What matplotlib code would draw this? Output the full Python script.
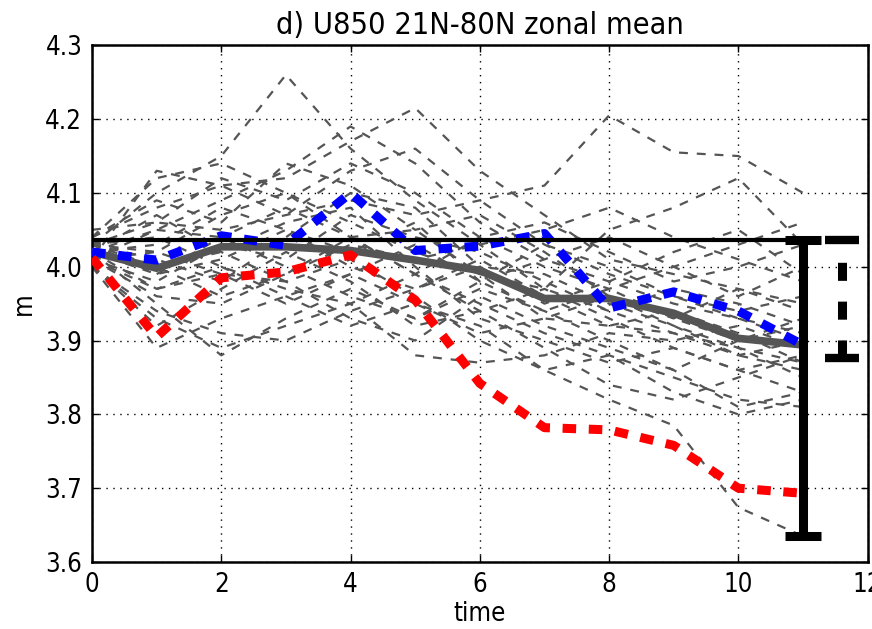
import matplotlib
matplotlib.use("Agg")
import matplotlib.pyplot as plt
import numpy as np

# lead time (x) for every series
time = np.arange(12)

# ensemble members (grey dashed)
members = [
    [4.03, 4.10, 4.15, 4.26, 4.16, 4.09, 4.03, 3.97, 3.94, 3.91, 3.89, 3.87],
    [4.02, 4.05, 4.09, 4.13, 4.19, 4.14, 4.06, 4.01, 3.98, 3.95, 3.93, 3.90],
    [4.01, 4.13, 4.11, 4.12, 4.17, 4.215, 4.13, 4.07, 4.01, 3.99, 3.97, 3.95],
    [4.03, 4.06, 4.05, 4.07, 4.09, 4.07, 4.09, 4.11, 4.205, 4.155, 4.15, 4.10],
    [4.04, 4.12, 4.14, 4.10, 4.04, 4.05, 3.99, 3.97, 4.05, 4.08, 4.12, 4.03],
    [4.02, 4.00, 3.96, 3.99, 4.03, 4.01, 4.03, 4.05, 4.08, 4.04, 4.01, 3.98],
    [4.00, 3.89, 3.93, 3.96, 3.99, 3.95, 3.92, 3.86, 3.88, 3.83, 3.80, 3.82],
    [4.01, 3.97, 3.99, 3.98, 4.01, 3.96, 3.90, 3.86, 3.82, 3.785, 3.674, 3.635],
    [4.02, 3.95, 3.88, 3.93, 3.97, 3.93, 3.97, 3.94, 3.90, 3.86, 3.81, 3.83],
    [4.03, 4.02, 4.07, 4.10, 4.06, 4.02, 3.99, 3.93, 3.92, 3.91, 3.88, 3.90],
    [4.00, 3.93, 3.89, 3.92, 3.95, 3.88, 3.87, 3.88, 3.91, 3.90, 3.92, 3.89],
    [4.04, 4.08, 4.11, 4.07, 4.13, 4.16, 4.09, 4.03, 3.99, 3.96, 3.94, 3.96],
    [4.02, 3.99, 4.01, 4.05, 4.00, 3.97, 4.00, 3.99, 3.95, 3.92, 3.88, 3.86],
    [4.01, 3.98, 4.03, 4.01, 4.07, 4.04, 4.02, 3.98, 3.94, 3.97, 3.95, 3.92],
    [4.03, 4.04, 4.00, 3.97, 3.95, 3.99, 4.04, 4.06, 4.02, 3.98, 4.00, 4.03],
    [4.00, 3.92, 3.97, 4.02, 3.98, 3.92, 3.94, 3.97, 3.93, 3.89, 3.86, 3.83],
    [4.02, 4.07, 4.02, 3.98, 3.93, 3.90, 3.96, 3.92, 3.89, 3.86, 3.90, 3.93],
    [4.03, 4.01, 3.98, 4.04, 4.10, 4.08, 4.00, 3.95, 3.98, 4.02, 4.05, 3.99],
    [4.01, 3.96, 3.95, 3.99, 4.04, 3.99, 3.94, 3.89, 3.84, 3.82, 3.85, 3.88],
    [4.04, 4.09, 4.06, 4.14, 4.11, 4.05, 4.07, 4.02, 3.96, 3.93, 3.97, 3.94],
    [4.02, 4.03, 4.08, 4.05, 4.02, 4.06, 3.98, 4.01, 4.04, 4.00, 3.96, 4.00],
    [4.00, 3.94, 3.91, 3.90, 3.94, 3.97, 4.01, 3.96, 3.92, 3.94, 3.91, 3.87],
    [4.03, 3.99, 4.04, 4.08, 4.04, 3.99, 3.95, 3.91, 3.88, 3.85, 3.82, 3.81],
    [4.01, 4.02, 3.99, 3.95, 3.99, 4.03, 3.98, 3.94, 3.97, 3.93, 3.90, 3.92],
    [4.05, 4.06, 4.12, 4.09, 4.14, 4.10, 4.04, 4.00, 3.97, 4.00, 4.03, 4.06],
    [4.02, 3.97, 4.00, 3.96, 3.92, 3.95, 3.91, 3.93, 3.96, 3.92, 3.89, 3.85],
    [4.03, 4.00, 4.02, 4.06, 4.08, 4.00, 3.93, 3.90, 3.87, 3.89, 3.86, 3.88],
    [4.01, 4.05, 4.04, 4.00, 3.96, 3.93, 3.98, 4.03, 4.00, 3.96, 3.93, 3.91],
]

ens_mean = [4.02, 3.998, 4.027, 4.027, 4.022, 4.009, 3.995, 3.957, 3.957, 3.937, 3.903, 3.894]
blue_run = [4.02, 4.009, 4.042, 4.029, 4.10, 4.022, 4.028, 4.045, 3.944, 3.966, 3.94, 3.894]
red_run = [4.012, 3.905, 3.985, 3.993, 4.016, 3.955, 3.842, 3.782, 3.779, 3.758, 3.70, 3.693]

obs_level = 4.036          # reference level (black line)
spread_x = 11              # solid bar: full ensemble range
spread_lo = 3.635
sd_x = 11.6                # dashed bar
sd_lo = 3.877

plt.rcParams["font.family"] = "DejaVu Sans"
plt.rcParams["font.stretch"] = "condensed"
fig = plt.figure(figsize=(8.72, 6.29), dpi=100)
ax = fig.add_axes([0.1055, 0.1065, 0.8895, 0.8215])

for m in members:
    ax.plot(time, m, color="#555555", lw=1.6, linestyle=(0, (4, 4)), zorder=2)

ax.plot(time, ens_mean, color="#555555", lw=5.5, solid_joinstyle="miter", zorder=3)
ax.plot(time, blue_run, color="blue", lw=6.5, linestyle=(0, (1.5, 1.4)), zorder=4)
ax.plot(time, red_run, color="red", lw=6.5, linestyle=(0, (1.5, 1.4)), zorder=4)

ax.plot([0, spread_x], [obs_level, obs_level], color="black", lw=3, zorder=5)

# spread bars hanging below the reference level
ax.errorbar([spread_x], [obs_level], yerr=[[obs_level - spread_lo], [0]],
            fmt="none", ecolor="black", elinewidth=6.5, capsize=13, capthick=6.5, zorder=6)
eb = ax.errorbar([sd_x], [obs_level], yerr=[[obs_level - sd_lo], [0]],
                 fmt="none", ecolor="black", elinewidth=6.5, capsize=12, capthick=6, zorder=6)
eb[2][0].set_linestyle((0, (2.0, 2.3)))

ax.set_xlim(0, 12)
ax.set_ylim(3.6, 4.3)
ax.set_xticks(np.arange(0, 13, 2))
ax.set_xticklabels(["0", "2", "4", "6", "8", "10", "12"])
ax.set_yticks(np.arange(3.6, 4.31, 0.1))
ax.set_yticklabels([f"{v:.1f}" for v in np.arange(3.6, 4.31, 0.1)])
ax.grid(True, color="black", linestyle=(0, (1, 4)), lw=1)
ax.tick_params(direction="in", top=True, right=True, length=5, width=1, labelsize=18.5, pad=7)
for s in ax.spines.values():
    s.set_linewidth(1.8)

ax.set_title("d) U850 21N-80N zonal mean", fontsize=22, pad=8)
ax.set_xlabel("time", fontsize=18.5, labelpad=2)
ax.set_ylabel("m", fontsize=18.5, labelpad=6)

fig.savefig("out.png", dpi=100)
